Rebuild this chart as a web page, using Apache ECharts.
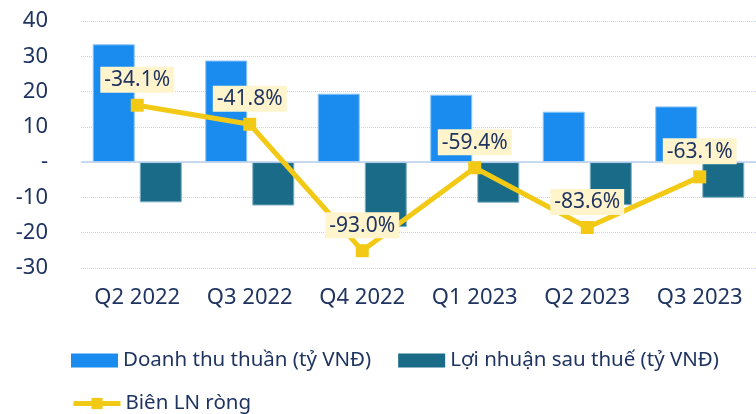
<!DOCTYPE html>
<html>
<head>
<meta charset="utf-8">
<script src="https://cdn.jsdelivr.net/npm/echarts@6/dist/echarts.min.js"></script>
<style>
  html, body { margin: 0; padding: 0; background: #fff; }
  #main { width: 756px; height: 414px; }
</style>
</head>
<body>
<div id="main"></div>
<script>
// data
var quarters = ['Q2 2022', 'Q3 2022', 'Q4 2022', 'Q1 2023', 'Q2 2023', 'Q3 2023'];
var doanhThu = [33.4, 28.8, 19.4, 19.1, 14.3, 15.8];
var loiNhuan = [-11.4, -12.3, -18.4, -11.5, -12.2, -10.1];
var bienLN = [-34.1, -41.8, -93.0, -59.4, -83.6, -63.1];

var navy = '#1F3461';
var font = 'Noto Sans';

var chart = echarts.init(document.getElementById('main'));
chart.setOption({
  backgroundColor: '#fff',
  textStyle: { fontFamily: font },
  grid: { left: 81, right: 0, top: 21, bottom: 146 },
  legend: [{
    left: 66, top: 345,
    icon: 'rect',
    itemWidth: 47, itemHeight: 14, itemGap: 27,
    itemStyle: { borderWidth: 0 },
    textStyle: { color: navy, fontSize: 20.5, fontFamily: font },
    data: ['Doanh thu thuần (tỷ VNĐ)', 'Lợi nhuận sau thuế (tỷ VNĐ)']
  }, {
    left: 66, top: 388,
    itemWidth: 47, itemHeight: 14,
    lineStyle: { width: 5 },
    textStyle: { color: navy, fontSize: 20.5, fontFamily: font },
    data: ['Biên LN ròng']
  }],
  xAxis: {
    type: 'category',
    data: quarters,
    axisLine: { show: false, onZero: false },
    axisTick: { show: false },
    axisLabel: { color: navy, fontSize: 22, margin: 19, fontFamily: font }
  },
  yAxis: [{
    type: 'value',
    min: -30, max: 40, interval: 10,
    axisLine: { show: false },
    axisTick: { show: false },
    axisLabel: {
      color: navy, fontSize: 22, margin: 33, fontFamily: font,
      formatter: function (v) { return v === 0 ? '-' : v; }
    },
    splitLine: { lineStyle: { type: 'dotted', color: '#C3D6F0', width: 1 } }
  }, {
    type: 'value',
    min: -100, max: 0,
    show: false,
    splitLine: { show: false }
  }],
  series: [{
    name: 'Doanh thu thuần (tỷ VNĐ)',
    type: 'bar',
    data: doanhThu,
    barWidth: 42,
    barGap: '12%',
    itemStyle: { color: '#1A8CF0', borderColor: '#8CC4F6', borderWidth: 1 },
    markLine: {
      silent: true,
      symbol: 'none',
      label: { show: false },
      lineStyle: { color: '#B8D0EE', type: 'solid', width: 1.5 },
      data: [{ yAxis: 0 }]
    }
  }, {
    name: 'Lợi nhuận sau thuế (tỷ VNĐ)',
    type: 'bar',
    data: loiNhuan,
    barWidth: 42,
    itemStyle: { color: '#1A6B87', borderColor: '#7FB0C4', borderWidth: 1 }
  }, {
    name: 'Biên LN ròng',
    type: 'line',
    yAxisIndex: 1,
    data: bienLN,
    symbol: 'rect',
    symbolSize: 13,
    z: 5,
    lineStyle: { color: '#F2CA16', width: 5 },
    itemStyle: { color: '#F2CA16' },
    label: {
      show: true,
      position: 'top',
      distance: 6,
      color: navy,
      fontSize: 21,
      fontFamily: font,
      backgroundColor: '#FFF4CC',
      padding: [3, 4, 2, 4],
      formatter: function (p) { return p.value.toFixed(1) + '%'; }
    }
  }]
});
</script>
</body>
</html>
